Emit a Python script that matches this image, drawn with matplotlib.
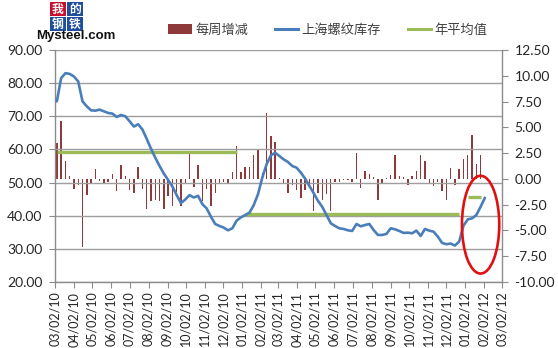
import pandas as pd
import matplotlib
matplotlib.use("Agg")
import matplotlib.pyplot as plt
import matplotlib.dates as mdates
from matplotlib.patches import Ellipse, Rectangle, Patch
from matplotlib.lines import Line2D
from matplotlib.ticker import MultipleLocator, FormatStrFormatter

plt.rcParams['font.family'] = ['Lato', 'Noto Sans CJK SC', 'DejaVu Sans']

# Weekly Shanghai rebar inventory (left axis, 万吨) and weekly change (right axis)
weeks = pd.date_range("2010-03-05", periods=101, freq="7D")

stock = [74.5, 81.5, 83.0, 82.8, 82.0, 80.5, 74.5, 73.0, 71.8, 71.7,
         72.0, 71.5, 71.0, 70.8, 69.8, 70.4, 70.0, 68.5, 66.9, 67.6,
         66.0, 63.2, 60.2, 57.5, 55.0, 52.7, 50.8, 48.8, 46.2, 43.8,
         44.9, 46.2, 45.5, 46.0, 43.5, 42.2, 39.7, 37.5, 36.9, 36.4,
         35.6, 36.2, 38.5, 39.5, 40.2, 40.9, 43.2, 46.5, 51.5, 55.5,
         58.2, 59.0, 58.0, 57.0, 56.2, 55.0, 54.5, 53.0, 51.2, 49.0,
         46.8, 44.5, 42.7, 40.2, 37.7, 36.9, 36.2, 36.0, 35.6, 35.4,
         37.5, 36.8, 37.2, 37.5, 35.7, 34.2, 34.2, 34.5, 36.2, 35.9,
         35.4, 34.8, 34.9, 34.7, 35.5, 33.9, 36.0, 35.5, 35.2, 33.7,
         31.8, 31.4, 31.6, 31.0, 32.2, 37.0, 38.9, 39.2, 40.2, 42.7,
         45.4]

weekly_change = [3.5, 5.6, 1.7, 0.3, -1.0, -0.6, -6.6, -1.6, -0.4, 1.0,
                 -0.2, -0.4, -0.3, 0.5, -1.2, 1.3, 0.3, -1.1, -1.4, 1.2,
                 -1.0, -2.9, -2.1, -2.0, -2.1, -2.9, -1.7, -2.6, -1.3, -2.6,
                 -0.5, 2.4, -0.8, 1.3, -2.1, -1.0, -2.6, -1.4, -0.5, -0.3,
                 -0.5, 0.7, 3.2, 0.7, 1.2, 1.2, 2.3, 2.8, 0.6, 6.4,
                 4.2, 3.6, 0.1, -0.5, -1.4, -0.6, -1.1, -1.9, -1.1, -0.8,
                 -3.1, -1.4, -2.0, -1.5, -3.1, -0.3, -0.3, -0.1, -0.1, -0.3,
                 2.5, -0.9, 0.8, 0.5, 0.15, -2.0, -0.5, 0.1, 0.4, 2.3,
                 0.3, 0.2, -0.6, 0.3, 0.8, 2.3, 1.7, -0.4, -0.65, -0.3,
                 -1.2, -2.0, 1.1, -0.6, 1.0, 1.9, 2.3, 4.3, 1.4, 2.3]

# Yearly average inventory: (first week, last week, average)
year_avg = [("2010-03-05", "2010-12-24", 59.3),
            ("2011-01-07", "2011-12-23", 40.5),
            ("2012-01-06", "2012-01-27", 45.7)]

legend_labels = ["每周增减", "上海螺纹库存", "年平均值"]

BAR_C = "#8E3A3A"
LINE_C = "#4A7EBB"
AVG_C = "#9BBB59"
AXIS_C = "#8C8C8C"
GRID_C = "#9E9E9E"
TXT_C = "#262626"

W, H = 558, 348
fig = plt.figure(figsize=(W / 100, H / 100), dpi=100)
ax = fig.add_axes([55 / W, 1 - 282 / H, (502 - 55) / W, (282 - 50) / H])
ax2 = ax.twinx()
ax.set_zorder(ax2.get_zorder() + 1)
ax.patch.set_visible(False)

ax2.bar(weeks[:len(weekly_change)], weekly_change, width=2.3, color=BAR_C, zorder=2)

ax.plot(weeks, stock, color=LINE_C, lw=1.9, solid_capstyle='round', solid_joinstyle='round', zorder=4)
for start, end, val in year_avg:
    seg = weeks[(weeks >= pd.Timestamp(start)) & (weeks <= pd.Timestamp(end))]
    ax.plot([seg[0], seg[-1]], [val, val], color=AVG_C, lw=2.4, zorder=3,
            solid_capstyle='butt')

# Highlight around the latest weeks
ctr = mdates.date2num(pd.Timestamp("2012-01-27"))
ax.add_patch(Ellipse((ctr, 37.3), width=61, height=29.5, fill=False,
                     edgecolor="#E01010", lw=1.9, zorder=6, clip_on=False))

# Axes limits and ticks
ax.set_ylim(20, 90)
ax.yaxis.set_major_locator(MultipleLocator(10))
ax.yaxis.set_major_formatter(FormatStrFormatter("%.2f"))
ax2.set_ylim(-10, 12.5)
ax2.yaxis.set_major_locator(MultipleLocator(2.5))
ax2.yaxis.set_major_formatter(FormatStrFormatter("%.2f"))

ax.set_xlim(pd.Timestamp("2010-03-02"), pd.Timestamp("2012-03-02"))
ax.xaxis.set_major_locator(mdates.MonthLocator(bymonthday=2))
ax.xaxis.set_major_formatter(mdates.DateFormatter("%m/%d/%y"))
for lab in ax.get_xticklabels():
    lab.set_rotation(90)

ax.grid(axis='y', color=GRID_C, lw=1.0)
ax.set_axisbelow(True)

for a in (ax, ax2):
    for s in a.spines.values():
        s.set_color(AXIS_C)
        s.set_linewidth(1.0)
    a.spines['top'].set_visible(False)
ax.spines['right'].set_visible(False)
ax2.spines['left'].set_visible(False)
ax2.spines['bottom'].set_visible(False)

ax.tick_params(axis='y', direction='out', length=4, color=AXIS_C, labelsize=10, labelcolor=TXT_C, pad=5)
ax.tick_params(axis='x', direction='out', length=4, color=AXIS_C, labelsize=9, labelcolor=TXT_C, pad=3)
ax2.tick_params(axis='y', direction='out', length=4, color=AXIS_C, labelsize=10, labelcolor=TXT_C, pad=5)

# Legend
handles = [Patch(facecolor=BAR_C, edgecolor='none'),
           Line2D([], [], color=LINE_C, lw=2.2),
           Line2D([], [], color=AVG_C, lw=2.2)]
fig.legend(handles, legend_labels, loc='center', bbox_to_anchor=(328 / W, 1 - 30 / H),
           ncol=3, frameon=False, handlelength=1.8, handletextpad=0.25,
           columnspacing=2.0, labelcolor="#404040",
           prop={'family': ['Noto Sans CJK SC', 'DejaVu Sans'], 'size': 9.5})

# Site logo
def px(x, y):
    return x / W, 1 - y / H

logo = [("我", 50, 2, "#C8102E"), ("的", 67, 2, "#1F4E9C"),
        ("钢", 50, 17, "#1F4E9C"), ("铁", 67, 17, "#1F4E9C")]
for ch, x0, y0, col in logo:
    fx, fy = px(x0, y0 + 14)
    fig.add_artist(Rectangle((fx, fy), 16 / W, 14 / H, transform=fig.transFigure,
                             facecolor=col, edgecolor='none'))
    cx, cy = px(x0 + 8, y0 + 7)
    fig.text(cx, cy, ch, ha='center', va='center', color='white', fontsize=8.5,
             fontweight='bold', family=['Noto Sans CJK SC'])
mx, my = px(76, 36)
fig.text(mx, my, "Mysteel.com", ha='center', va='center', color='#111111',
         fontsize=9.5, fontweight='bold', family=['Liberation Sans'])

fig.savefig("out.png", dpi=100)
